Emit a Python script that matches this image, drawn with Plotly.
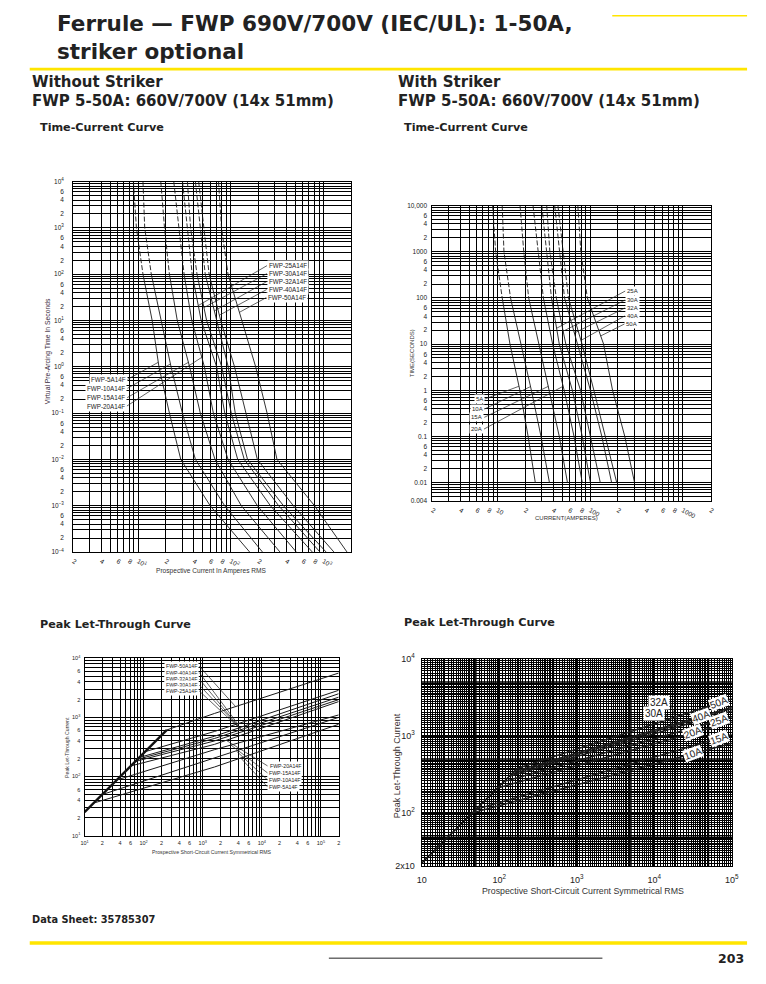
import math
import numpy as np
import plotly.graph_objects as go

# page is 766x984; the figure is drawn inside the default 8px body margin
PW, PH = 766, 984
OFF = 8
W, H = PW - 2 * OFF, PH - 2 * OFF
YELLOW = "#FFE500"
HEAD = "DejaVu Sans, Liberation Sans, sans-serif"
BODY = "Liberation Sans, Arial, sans-serif"

# ---------------- data ----------------
ratings = ["5A", "10A", "15A", "20A", "25A", "30A", "32A", "40A", "50A"]

# Without striker - time/current (current in A at each time in s)
tc_nos_time = [1e4, 1e3, 1e2, 1e1, 1, 0.1, 0.01, 1e-3, 1e-4]
tc_nos_5A = [8.9, 9.6, 11.3, 14.2, 16.8, 21.8, 28.9, 60, 160]
tc_nos_10A = [11.3, 11.8, 13.9, 17.9, 22.7, 30.1, 41.6, 86, 220]
tc_nos_15A = [17.6, 19.3, 21.8, 26.5, 36.0, 47.0, 67.7, 130, 340]
tc_nos_20A = [24.3, 27.8, 31.4, 38.0, 52.0, 65.0, 93.6, 194, 510]
tc_nos_25A = [30.2, 34.0, 38.4, 48.0, 70.5, 86.3, 119, 268, 760]
tc_nos_30A = [34.1, 36.9, 43.3, 55.0, 80.0, 101.5, 140, 329, 920]
tc_nos_32A = [41.6, 47.0, 53.1, 70.0, 94.0, 112, 152, 371, 1070]
tc_nos_40A = [45.1, 51.0, 58.5, 78.0, 110, 146, 194, 474, 1300]
tc_nos_50A = [73.9, 79.6, 93.6, 132, 186, 247, 316, 802, 1800]

# With striker - time/current
tc_ws_time = [1e4, 1e3, 1e2, 1e1, 1, 0.1, 0.01]
tc_ws_5A = [8.9, 9.6, 11.3, 13.7, 17.5, 21.5, 25.7]
tc_ws_10A = [11.3, 11.8, 13.9, 18.0, 23.3, 29.6, 36.5]
tc_ws_15A = [17.6, 19.3, 21.8, 28.0, 36.5, 46.6, 57.1]
tc_ws_20A = [24.3, 27.8, 31.4, 39.5, 52.6, 67.2, 82.4]
tc_ws_25A = [30.2, 34.0, 38.4, 46.6, 64.5, 82.4, 101]
tc_ws_30A = [34.1, 36.9, 43.3, 54.8, 79.0, 101, 129]
tc_ws_32A = [41.6, 47.0, 53.1, 73.0, 101, 134, 171]
tc_ws_40A = [45.1, 51.0, 58.5, 82.0, 110, 146, 194]
tc_ws_50A = [73.9, 79.6, 93.6, 140, 175, 237, 302]

# Without striker - peak let-through
lt_nos_start_x = [14.8, 20.4, 36, 62, 74, 80, 86, 108, 248]
lt_nos_start_y = [36, 50, 88, 152, 181, 196, 211, 265, 614]
lt_nos_mid_x = 1585
lt_nos_mid_y = [145, 205, 285, 350, 400, 440, 480, 578, 1166]
lt_nos_end_x = 200000
lt_nos_end_y = [764, 1000, 1100, 1850, 1995, 2197, 2512, 2871, 5623]
lt_nos_limit_x = [10, 248]
lt_nos_limit_y = [25, 614]

# With striker - peak let-through
lt_ws_ratings = ["10A", "15A", "20A", "25A", "30A", "32A", "40A", "50A"]
lt_ws_start_x = [45, 50, 95, 115, 135, 145, 155, 170]
lt_ws_start_y = [99, 110, 209, 253, 297, 319, 341, 375]
lt_ws_end_x = 100000
lt_ws_end_y = [800, 1040, 1510, 1770, 2100, 2250, 2350, 3030]
lt_ws_limit_x = [10, 170]
lt_ws_limit_y = [22, 375]

tc_nos = dict(zip(ratings, [tc_nos_5A, tc_nos_10A, tc_nos_15A, tc_nos_20A, tc_nos_25A,
                            tc_nos_30A, tc_nos_32A, tc_nos_40A, tc_nos_50A]))
tc_ws = dict(zip(ratings, [tc_ws_5A, tc_ws_10A, tc_ws_15A, tc_ws_20A, tc_ws_25A,
                           tc_ws_30A, tc_ws_32A, tc_ws_40A, tc_ws_50A]))
lt_nos = {r: ([sx, lt_nos_mid_x, lt_nos_end_x], [sy, my, ey])
          for r, sx, sy, my, ey in zip(ratings, lt_nos_start_x, lt_nos_start_y,
                                       lt_nos_mid_y, lt_nos_end_y)}
lt_ws = {r: ([sx, lt_ws_end_x], [sy, ey])
         for r, sx, sy, ey in zip(lt_ws_ratings, lt_ws_start_x, lt_ws_start_y, lt_ws_end_y)}

# ---------------- geometry (page pixels) ----------------
L2 = math.log10
CH = {
    "tl": dict(idx=1, xpx=(69.3, 351.7), ypx=(551.7, 176.7), xr=(L2(2), L2(2000)), yr=(-4, 4)),
    "tr": dict(idx=2, xpx=(434.3, 717.0), ypx=(500.0, 201.0), xr=(L2(2), L2(2000)), yr=(L2(0.004), 4)),
    "bl": dict(idx=3, xpx=(80.7, 339.0), ypx=(839.0, 659.3), xr=(1, L2(2e5)), yr=(1, 4)),
    "br": dict(idx=4, xpx=(423.3, 738.5), ypx=(870.0, 660.0), xr=(1, 5), yr=(L2(20), 4)),
}


def fx(px):
    return (px - OFF) / W


def fy(py):
    return 1 - (py - OFF) / H


def to_px(c, x, y):
    px = c["xpx"][0] + (L2(x) - c["xr"][0]) / (c["xr"][1] - c["xr"][0]) * (c["xpx"][1] - c["xpx"][0])
    py = c["ypx"][0] + (L2(y) - c["yr"][0]) / (c["yr"][1] - c["yr"][0]) * (c["ypx"][1] - c["ypx"][0])
    return px, py


def loginterp(q, xs, ys):
    lx = np.log10(np.array(xs, float))
    ly = np.log10(np.array(ys, float))
    o = np.argsort(lx)
    return float(10 ** np.interp(L2(q), lx[o], ly[o]))


def sfx(c):
    return "" if c["idx"] == 1 else str(c["idx"])


fig = go.Figure()


def line(c, xs, ys, width=0.9, dash="solid", color="#1a1a1a"):
    s = sfx(c)
    fig.add_trace(go.Scatter(x=xs, y=ys, mode="lines", xaxis="x" + s, yaxis="y" + s,
                             line=dict(color=color, width=width, dash=dash),
                             showlegend=False, hoverinfo="skip"))


for r in ratings:
    cur = tc_nos[r]
    line(CH["tl"], cur[:3], tc_nos_time[:3], dash="5px,2px")
    line(CH["tl"], cur[2:], tc_nos_time[2:])
    cur = tc_ws[r]
    line(CH["tr"], cur[:3], tc_ws_time[:3], dash="5px,2px")
    line(CH["tr"], cur[2:], tc_ws_time[2:])

line(CH["bl"], lt_nos_limit_x, lt_nos_limit_y, width=2.4, color="#111")
for r in ratings:
    xs, ys = lt_nos[r]
    line(CH["bl"], xs, ys, width=1.0)
line(CH["br"], lt_ws_limit_x, lt_ws_limit_y, width=1.6, color="#111")
for r in lt_ws_ratings:
    xs, ys = lt_ws[r]
    line(CH["br"], xs, ys, width=1.4, color="#1a1a1a")


# ---------------- axes ----------------
def sup(e):
    return "10<sup>%s</sup>" % str(e).replace("-", "\u2212")


def ticks(lo, hi, fn):
    major_v, major_t, minor_v = [], [], []
    for e in range(int(math.floor(L2(lo))) - 1, int(math.ceil(L2(hi))) + 1):
        for m in range(1, 10):
            v = m * 10.0 ** e
            if lo * 0.999 <= v <= hi * 1.001:
                t = fn(m, e, v)
                if t:
                    major_v.append(v)
                    major_t.append(t)
                else:
                    minor_v.append(v)
    return major_v, major_t, minor_v


tl_x = ticks(2, 2000, lambda m, e, v: "" if v > 1500 else (sup(e) if m == 1 else (str(m) if m in (2, 4, 6, 8) else "")))
tl_y = ticks(1e-4, 1e4, lambda m, e, v: sup(e) if m == 1 else (str(m) if m in (2, 4, 6) else ""))
tr_names = {1: "10", 2: "100", 3: "1000"}
tr_x = ticks(2, 2000, lambda m, e, v: tr_names.get(e, "") if m == 1 else (str(m) if m in (2, 4, 6, 8) else ""))
tr_ynames = {-2: "0.01", -1: "0.1", 0: "1", 1: "10", 2: "100", 3: "1000", 4: "10,000"}


def tr_yfn(m, e, v):
    if m == 1:
        return tr_ynames.get(e, "")
    if e == -3:
        return "0.004" if m == 4 else ""
    return str(m) if m in (2, 4, 6) else ""


tr_y = ticks(0.004, 1e4, tr_yfn)
bl_x = ticks(10, 2e5, lambda m, e, v: sup(e) if m == 1 else (str(m) if m in (2, 4, 6) else ""))
bl_y = ticks(10, 1e4, lambda m, e, v: sup(e) if m == 1 else (str(m) if m in (2, 4, 6) else ""))

br_x_major = [10, 100, 1000, 10000, 100000]
br_x_text = ["10", sup(2), sup(3), sup(4), sup(5)]
br_y_major = [20, 100, 1000, 10000]
br_y_text = ["2x10", sup(2), sup(3), sup(4)]
br_heavy = [50, 500, 5000, 50000]


def dense(lo, hi):
    out = []
    steps = [round(1 + 0.1 * k, 2) for k in range(1, 10)] + \
            [round(2 + 0.2 * k, 2) for k in range(0, 15)] + \
            [round(5 + 0.5 * k, 2) for k in range(1, 10)]
    for e in range(0, 6):
        for s in steps:
            if abs(s - 5) < 1e-9:
                continue
            v = s * 10.0 ** e
            if lo < v < hi:
                out.append(v)
    return out


layout = {}


def set_axes(c, xt, yt, fsize, xstand, ystand, gw, mgw):
    s = sfx(c)
    base = dict(type="log", tickmode="array", showgrid=True, gridcolor="#000", gridwidth=gw,
                showline=True, linecolor="#000", linewidth=1.3, mirror=True, ticks="",
                zeroline=False, fixedrange=True,
                tickfont=dict(size=fsize, family=BODY, color="#222"))
    xa = dict(base, range=list(c["xr"]), domain=[fx(c["xpx"][0]), fx(c["xpx"][1])],
              anchor="y" + s, tickvals=xt[0], ticktext=xt[1], ticklabelstandoff=xstand,
              minor=dict(tickmode="array", tickvals=xt[2], showgrid=True, gridcolor="#000",
                         gridwidth=mgw, ticks=""))
    ya = dict(base, range=list(c["yr"]), domain=[fy(c["ypx"][0]), fy(c["ypx"][1])],
              anchor="x" + s, tickvals=yt[0], ticktext=yt[1], ticklabelstandoff=ystand,
              minor=dict(tickmode="array", tickvals=yt[2], showgrid=True, gridcolor="#000",
                         gridwidth=mgw, ticks=""))
    layout["xaxis" + s] = xa
    layout["yaxis" + s] = ya


set_axes(CH["tl"], tl_x, tl_y, 6.5, 2, 7, 1.1, 1.1)
set_axes(CH["tr"], tr_x, tr_y, 6.5, 2, 3, 1.1, 1.1)
set_axes(CH["bl"], bl_x, bl_y, 5.5, 2, 2, 1.0, 1.0)
set_axes(CH["br"], (br_x_major, br_x_text, dense(10, 1e5)), (br_y_major, br_y_text, dense(20, 1e4)),
         9, 5, 4, 1.5, 0.55)

# ---------------- annotations ----------------
ann = []
shapes = []


def ptext(text, px, py, size, bold=False, xanchor="left", family=BODY, color="#1a1a1a", angle=0):
    if bold:
        text = "<b>%s</b>" % text
    ann.append(dict(text=text, x=fx(px), y=fy(py), xref="paper", yref="paper",
                    showarrow=False, xanchor=xanchor, yanchor="middle", textangle=angle,
                    font=dict(size=size, family=family, color=color)))


def callout(c, text, hx, hy, tx, ty, xanchor, size):
    s = sfx(c)
    hpx, hpy = to_px(c, hx, hy)
    ann.append(dict(text=text, x=L2(hx), y=L2(hy), xref="x" + s, yref="y" + s,
                    ax=tx - hpx, ay=ty - hpy, axref="pixel", ayref="pixel",
                    showarrow=True, arrowhead=0, arrowwidth=0.7, arrowcolor="#222",
                    xanchor=xanchor, yanchor="middle", bgcolor="white", borderpad=1,
                    font=dict(size=size, family=BODY, color="#222")))


# Headings
ptext("Ferrule \u2014 FWP 690V/700V (IEC/UL): 1-50A,", 51, 17, 21.5, True, family=HEAD, color="#222")
ptext("striker optional", 51, 45, 21.5, True, family=HEAD, color="#222")
for x0, head in [(25, "Without Striker"), (397, "With Striker")]:
    ptext(head, x0, 76, 15, True, family=HEAD, color="#222")
    ptext("FWP 5-50A: 660V/700V (14x 51mm)", x0, 95.5, 15, True, family=HEAD, color="#222")
ptext("Time-Current Curve", 33, 122, 11.2, True, family=HEAD, color="#222")
ptext("Time-Current Curve", 403, 122, 11.2, True, family=HEAD, color="#222")
ptext("Peak Let-Through Curve", 33, 625, 11.2, True, family=HEAD, color="#222")
ptext("Peak Let-Through Curve", 403, 623, 11.2, True, family=HEAD, color="#222")
ptext("Data Sheet: 35785307", 25, 924, 9.8, True, family=HEAD, color="#222")
ptext("203", 753, 963, 12.5, True, xanchor="right", family=HEAD, color="#222")

# Axis titles
ptext("Virtual Pre-Arcing Time In Seconds", 43, 348, 6.8, xanchor="center", angle=-90, color="#3a2a40")
ptext("Prospective Current In Amperes RMS", 210, 571, 6.6, xanchor="center", color="#333")
ptext("TIME(SECONDS)", 413, 351, 6.0, xanchor="center", angle=-90, color="#333")
ptext("CURRENT(AMPERES)", 570, 517, 6.0, xanchor="center", color="#333")
ptext("Peak Let-Through Current", 63, 750, 5.2, xanchor="center", angle=-90, color="#333")
ptext("Prospective Short-Circuit Current Symmetrical RMS", 210, 856, 5.2, xanchor="center", color="#333")
ptext("Peak Let-Through Current", 398, 768, 9, xanchor="center", angle=-90, color="#3a3030")
ptext("Prospective Short-Circuit Current Symmetrical RMS", 587, 895, 8.8, xanchor="center", color="#333")

# Callouts: time-current, without striker
for (r, t), ty in zip([("25A", 21), ("30A", 19), ("32A", 16), ("40A", 13), ("50A", 15)],
                      [262.3, 270.3, 278.3, 286.3, 294.3]):
    callout(CH["tl"], "FWP-%s14F" % r, loginterp(t, tc_nos_time, tc_nos[r]), t, 265, ty, "left", 6.3)
for (r, t), ty in zip([("5A", 1.25), ("10A", 1.15), ("15A", 1.25), ("20A", 1.6)],
                      [376.7, 385.7, 395, 403.3]):
    callout(CH["tl"], "FWP-%s14F" % r, loginterp(t, tc_nos_time, tc_nos[r]), t, 125, ty, "right", 6.3)

# Callouts: time-current, with striker
for (r, t), ty in zip([("25A", 22), ("30A", 19), ("32A", 17.3), ("40A", 12), ("50A", 15)],
                      [288, 297, 305, 313, 321]):
    callout(CH["tr"], r, loginterp(t, tc_ws_time, tc_ws[r]), t, 629, ty, "left", 6)
for (r, t), ty in zip([("5A", 1.22), ("10A", 1.2), ("15A", 1.22), ("20A", 1.22)],
                      [396.7, 406.7, 415, 426.7]):
    callout(CH["tr"], r, loginterp(t, tc_ws_time, tc_ws[r]), t, 488, ty, "right", 6)

# Callouts: peak let-through, without striker
for (r, xq), ty in zip([("50A", 3600), ("40A", 3900), ("32A", 4200), ("30A", 4500), ("25A", 4800)],
                       [668, 674.5, 681, 687, 693]):
    xs, ys = lt_nos[r]
    callout(CH["bl"], "FWP-%s14F" % r, xq, loginterp(xq, xs, ys), 198, ty, "right", 5.2)
for (r, xq), ty in zip([("20A", 2500), ("15A", 3000), ("10A", 3700), ("5A", 4400)],
                       [768, 775, 782, 789]):
    xs, ys = lt_nos[r]
    callout(CH["bl"], "FWP-%s14F" % r, xq, loginterp(xq, xs, ys), 266, ty, "left", 5.2)

# Labels: peak let-through, with striker
for r, xq in [("50A", 68400), ("25A", 68400), ("15A", 68400), ("40A", 40000), ("20A", 31600), ("10A", 31600)]:
    xs, ys = lt_ws[r]
    ann.append(dict(text=r, x=L2(xq), y=L2(loginterp(xq, xs, ys)), xref="x4", yref="y4",
                    showarrow=False, textangle=-20, bgcolor="white", borderpad=0,
                    font=dict(size=10, family=BODY, color="#222")))
for (r, xq), (tx, ty) in zip([("32A", 20000), ("30A", 18000)], [(676, 704.3), (671, 715.7)]):
    xs, ys = lt_ws[r]
    callout(CH["br"], r, xq, loginterp(xq, xs, ys), tx, ty, "right", 10)

# heavy grid lines at 5x10^n on the dense chart
for v in br_heavy:
    shapes.append(dict(type="line", xref="x4", yref="y4 domain", x0=v, x1=v, y0=0, y1=1,
                       line=dict(color="#000", width=1.5), layer="below"))
    if 20 < v < 10000:
        shapes.append(dict(type="line", xref="x4 domain", yref="y4", x0=0, x1=1, y0=v, y1=v,
                           line=dict(color="#000", width=1.5), layer="below"))


# ---------------- page shapes ----------------
def prect(x0, x1, y0, y1, color):
    shapes.append(dict(type="rect", xref="paper", yref="paper", x0=fx(x0), x1=fx(x1),
                       y0=fy(y1), y1=fy(y0), fillcolor=color, line=dict(width=0)))


prect(25, 754, 61.5, 64.3, YELLOW)
prect(617, 754, 8, 9.5, YELLOW)
prect(25, 754, 946, 949.5, YELLOW)
shapes.append(dict(type="line", xref="paper", yref="paper", x0=fx(329), x1=fx(607),
                   y0=fy(963), y1=fy(963), line=dict(color="#222", width=1)))

fig.update_layout(width=W, height=H, margin=dict(l=0, r=0, t=0, b=0),
                  paper_bgcolor="white", plot_bgcolor="white", showlegend=False,
                  annotations=ann, shapes=shapes, **layout)
fig.write_html("out.html")
